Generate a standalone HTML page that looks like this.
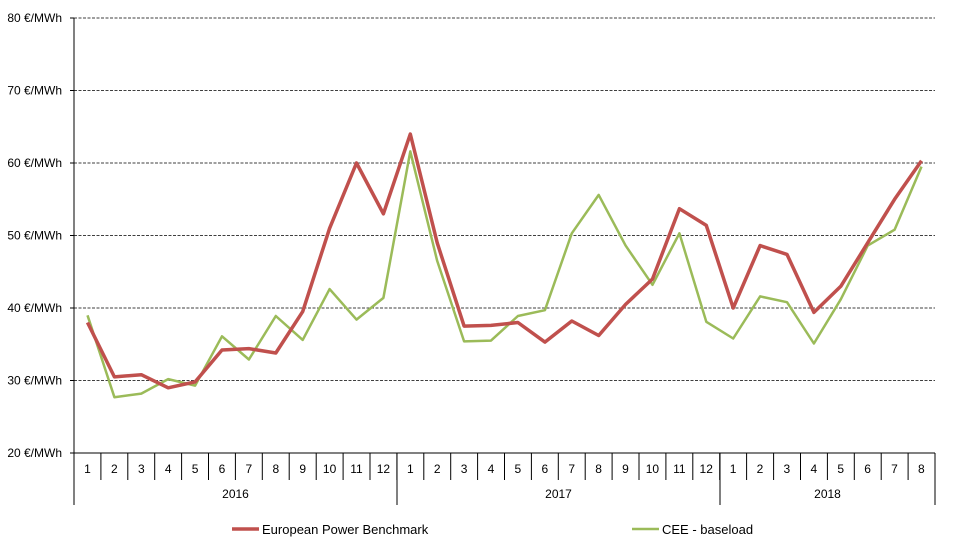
<!DOCTYPE html>
<html><head><meta charset="utf-8"><style>
html,body{margin:0;padding:0;background:#fff;}
svg{display:block;font-family:"Liberation Sans","DejaVu Sans",sans-serif;}
</style></head><body>
<svg id="s" width="956" height="545" viewBox="0 0 956 545" xmlns="http://www.w3.org/2000/svg">
<g stroke="#000" stroke-width="0.8" stroke-dasharray="3,1.5">
<line x1="74" x2="935" y1="18" y2="18"/><line x1="74" x2="935" y1="90.5" y2="90.5"/>
<line x1="74" x2="935" y1="163" y2="163"/><line x1="74" x2="935" y1="235.5" y2="235.5"/>
<line x1="74" x2="935" y1="308" y2="308"/><line x1="74" x2="935" y1="380.5" y2="380.5"/>
</g>
<g stroke="#000" stroke-width="1">
<line x1="74" x2="74" y1="18" y2="505"/>
<line x1="70" x2="935" y1="453" y2="453"/>
<line x1="70" x2="74" y1="18" y2="18"/><line x1="70" x2="74" y1="90.5" y2="90.5"/>
<line x1="70" x2="74" y1="163" y2="163"/><line x1="70" x2="74" y1="235.5" y2="235.5"/>
<line x1="70" x2="74" y1="308" y2="308"/><line x1="70" x2="74" y1="380.5" y2="380.5"/>
<line x1="397" x2="397" y1="453" y2="505"/><line x1="720" x2="720" y1="453" y2="505"/>
<line x1="935" x2="935" y1="453" y2="505"/>
</g>
<g id="ticks" stroke="#000" stroke-width="1"></g>
<g font-size="12" fill="#000" text-anchor="end">
<text x="62" y="22">80 €/MWh</text><text x="62" y="94.5">70 €/MWh</text>
<text x="62" y="167">60 €/MWh</text><text x="62" y="239.5">50 €/MWh</text>
<text x="62" y="312">40 €/MWh</text><text x="62" y="384.5">30 €/MWh</text>
<text x="62" y="457">20 €/MWh</text>
</g>
<g font-size="12" fill="#000" text-anchor="middle">
<text x="87.5" y="473">1</text><text x="114.4" y="473">2</text><text x="141.3" y="473">3</text><text x="168.2" y="473">4</text><text x="195.1" y="473">5</text><text x="222" y="473">6</text><text x="248.9" y="473">7</text><text x="275.8" y="473">8</text><text x="302.7" y="473">9</text><text x="329.6" y="473">10</text><text x="356.5" y="473">11</text><text x="383.4" y="473">12</text>
<text x="410.3" y="473">1</text><text x="437.2" y="473">2</text><text x="464.1" y="473">3</text><text x="491" y="473">4</text><text x="517.9" y="473">5</text><text x="544.8" y="473">6</text><text x="571.7" y="473">7</text><text x="598.6" y="473">8</text><text x="625.5" y="473">9</text><text x="652.4" y="473">10</text><text x="679.3" y="473">11</text><text x="706.2" y="473">12</text>
<text x="733.1" y="473">1</text><text x="760" y="473">2</text><text x="786.9" y="473">3</text><text x="813.8" y="473">4</text><text x="840.7" y="473">5</text><text x="867.6" y="473">6</text><text x="894.5" y="473">7</text><text x="921.4" y="473">8</text>
<text x="235.5" y="498">2016</text><text x="558.5" y="498">2017</text><text x="827.5" y="498">2018</text>
</g>
<polyline id="g" fill="none" stroke="#9bbb59" stroke-width="2.5" stroke-linejoin="round"/>
<polyline id="r" fill="none" stroke="#c0504d" stroke-width="3.5" stroke-linejoin="round"/>
<line x1="232" x2="259" y1="529" y2="529" stroke="#c0504d" stroke-width="3.5"/>
<text x="262" y="534" font-size="13">European Power Benchmark</text>
<line x1="632" x2="659" y1="529" y2="529" stroke="#9bbb59" stroke-width="2.5"/>
<text x="662" y="534" font-size="13">CEE - baseload</text>
</svg>
<script>
var R=[38,30.5,30.8,29,29.8,34.2,34.4,33.8,39.5,51,60,53,64,49,37.5,37.6,38,35.3,38.2,36.2,40.5,44,53.7,51.4,40,48.6,47.4,39.4,43,49,55,60.3];
var G=[39,27.7,28.2,30.2,29.3,36.1,32.9,38.9,35.6,42.6,38.4,41.4,61.6,46.5,35.4,35.5,38.9,39.7,50.3,55.6,48.6,43.2,50.3,38.1,35.8,41.6,40.8,35.1,41.2,48.6,50.8,59.5];
function pts(a){return a.map(function(v,i){return (87.45+26.906*i).toFixed(1)+","+(453-(v-20)*7.25).toFixed(1)}).join(" ");}
document.getElementById("r").setAttribute("points",pts(R));
document.getElementById("g").setAttribute("points",pts(G));
var t=document.getElementById("ticks"),h="";
for(var i=1;i<32;i++){var x=(74+26.906*i).toFixed(1);h+='<line x1="'+x+'" x2="'+x+'" y1="453" y2="480"/>';}
t.innerHTML=h;
</script>
</body></html>
